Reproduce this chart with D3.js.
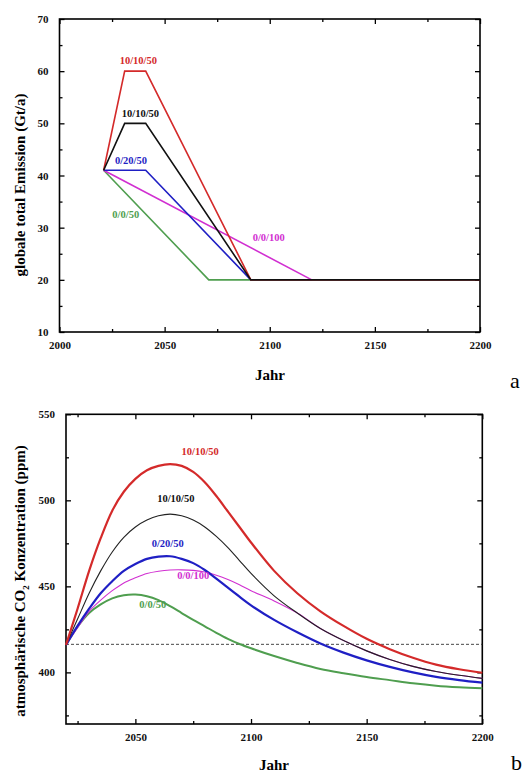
<!DOCTYPE html>
<meta charset="utf-8">
<title>Emission und CO2 Konzentration</title>
<style>
  body { margin: 0; background: #fff; }
  text { font-family: "Liberation Serif", "DejaVu Serif", serif; }
  .tick text { font-family: "Liberation Serif", serif; font-weight: bold; font-size: 11px; }
  .frame { fill: none; stroke: #000; stroke-width: 1.6px; }
  .title { font-weight: bold; font-size: 15px; }
  .lbl { font-family: "Liberation Serif", serif; font-weight: bold; font-size: 10.5px; }
  .panel { font-size: 22px; }
</style>
<body>
<script src="https://cdn.jsdelivr.net/npm/d3@7"></script>
<script>

var width = 526,
    height = 776;

// ---- chart a : emissions (Gt/a) ----
var emYearsRed = [2021, 2031, 2041, 2091, 2200],
    emRed = [41, 60, 60, 20, 20];
var emYearsBlack = [2021, 2031, 2041, 2091, 2200],
    emBlack = [41, 50, 50, 20, 20];
var emYearsBlue = [2021, 2041, 2091],
    emBlue = [41, 41, 20];
var emYearsMagenta = [2021, 2120],
    emMagenta = [41, 20];
var emYearsGreen = [2021, 2071, 2091],
    emGreen = [41, 20, 20];

// ---- chart b : concentration (ppm) ----
var concYears = [2020, 2025, 2030, 2035, 2040, 2045, 2050, 2055, 2060, 2065, 2070, 2075, 2080, 2085, 2090, 2095, 2100,
                 2110, 2120, 2130, 2140, 2150, 2160, 2170, 2180, 2190, 2200];
var concRed = [416, 437, 459, 478, 494, 505, 512.5, 517.5, 520, 521, 520, 516.5, 510.5, 502.5, 493.5, 484.5, 475.5,
               459, 446, 435.5, 427, 419.5, 413.5, 408.5, 404.5, 401.8, 399.8];
var concBlack = [416, 431, 446, 459, 470, 478.5, 484.5, 488.5, 491, 492, 491, 488.5, 484.5, 479, 472.5, 465, 457.5,
                 444.5, 434.5, 425.5, 418.5, 412.5, 407.5, 403.5, 400.5, 398.3, 396.5];
var concBlue = [416, 427, 437, 446, 453, 459, 463, 466, 467.3, 467.5, 466, 463.5, 459.5, 454.5, 449.2, 444, 439,
                430.5, 423.3, 416.8, 411.5, 407, 403.2, 400, 397.4, 395.5, 394];
var concMagenta = [416, 426, 435.5, 442, 447.5, 452, 455, 457.5, 458.8, 459.5, 459.6, 459.3, 458.3, 456.5, 454, 451, 447.5,
                   441.5, 434.5, 425.5, 418.5, 412.5, 407.5, 403.5, 400.5, 398.3, 396.5];
var concGreen = [416, 426.5, 434.5, 439.5, 443, 444.8, 445.2, 444.3, 442, 438.5, 434.5, 430.5, 426.8, 423, 419.5, 416.5, 414,
                 409.5, 405.5, 402, 399.5, 397.3, 395.5, 393.7, 392.3, 391.4, 390.8];
var preIndustrial = 416.3; // dashed reference line

var scenarioNames = ["10/10/50", "10/10/50", "0/20/50", "0/0/100", "0/0/50"];
var colors = {red: "#d42a2a", black: "#111", blue: "#1f1fc4", magenta: "#d12fd1", green: "#4f9e4f"};

var svg = d3.select("body").append("svg")
  .attr("width", width)
  .attr("height", height);

// draws frame with inward ticks on all four sides
function drawFrame(g, x, y, xMajor, xMinor, yMajor, yMinor) {
  var w = x.range()[1] - x.range()[0],
      h = y.range()[0] - y.range()[1];

  function minorAxis(axis, scale, vals) {
    return axis(scale).tickValues(vals).tickSize(-3).tickFormat("");
  }

  g.append("g").attr("transform", "translate(0," + h + ")")
    .call(d3.axisBottom(x).tickValues(xMajor).tickSize(-5).tickPadding(9).tickFormat(d3.format("d")));
  g.append("g").attr("transform", "translate(0," + h + ")")
    .call(minorAxis(d3.axisBottom, x, xMinor));
  g.append("g")
    .call(d3.axisTop(x).tickValues(xMajor).tickSize(-5).tickFormat(""));
  g.append("g")
    .call(minorAxis(d3.axisTop, x, xMinor));

  g.append("g")
    .call(d3.axisLeft(y).tickValues(yMajor).tickSize(-5).tickPadding(11));
  g.append("g")
    .call(minorAxis(d3.axisLeft, y, yMinor));
  g.append("g").attr("transform", "translate(" + w + ",0)")
    .call(d3.axisRight(y).tickValues(yMajor).tickSize(-5).tickFormat(""));
  g.append("g").attr("transform", "translate(" + w + ",0)")
    .call(minorAxis(d3.axisRight, y, yMinor));

  g.selectAll(".domain").remove();
  g.selectAll(".tick line").attr("stroke", "#000").attr("stroke-width", 1.3);
  g.selectAll(".tick text").attr("fill", "#111");

  g.append("rect").attr("class", "frame")
    .attr("width", w).attr("height", h);
}

function zip(xs, ys) {
  return xs.map(function(d, i) { return [d, ys[i]]; });
}

// ===== chart a =====
var ax = d3.scaleLinear().domain([2000, 2200]).range([0, 420.5]);
var ay = d3.scaleLinear().domain([10, 70]).range([313, 0]);
var ga = svg.append("g").attr("transform", "translate(59.5,19)");

drawFrame(ga, ax, ay,
  [2000, 2050, 2100, 2150, 2200], [2025, 2075, 2125, 2175],
  [10, 20, 30, 40, 50, 60, 70], [15, 25, 35, 45, 55, 65]);

var lineA = d3.line()
  .x(function(d) { return ax(d[0]); })
  .y(function(d) { return ay(d[1]); });

var emSeries = [
  {pts: zip(emYearsGreen, emGreen), c: colors.green},
  {pts: zip(emYearsMagenta, emMagenta), c: colors.magenta},
  {pts: zip(emYearsBlue, emBlue), c: colors.blue},
  {pts: zip(emYearsRed, emRed), c: colors.red},
  {pts: zip(emYearsBlack, emBlack), c: colors.black}
];

ga.selectAll(".em").data(emSeries).enter().append("path")
  .attr("class", "em")
  .attr("d", function(d) { return lineA(d.pts); })
  .attr("fill", "none")
  .attr("stroke", function(d) { return d.c; })
  .attr("stroke-width", 1.6);

var emLabels = [
  {t: scenarioNames[0], x: 2037.5, y: 61.3, c: colors.red},
  {t: scenarioNames[1], x: 2038.5, y: 51.3, c: colors.black},
  {t: scenarioNames[2], x: 2034, y: 42.2, c: colors.blue},
  {t: scenarioNames[3], x: 2099.5, y: 27.4, c: colors.magenta},
  {t: scenarioNames[4], x: 2031.5, y: 31.8, c: colors.green}
];

ga.selectAll(".lbl").data(emLabels).enter().append("text")
  .attr("class", "lbl")
  .attr("x", function(d) { return ax(d.x); })
  .attr("y", function(d) { return ay(d.y); })
  .attr("text-anchor", "middle")
  .attr("fill", function(d) { return d.c; })
  .text(function(d) { return d.t; });

svg.append("text").attr("class", "title")
  .attr("transform", "translate(25,185) rotate(-90)")
  .attr("text-anchor", "middle")
  .text("globale total Emission (Gt/a)");

svg.append("text").attr("class", "title")
  .attr("x", 270).attr("y", 380)
  .attr("text-anchor", "middle")
  .attr("font-size", 16)
  .text("Jahr");

svg.append("text").attr("class", "panel")
  .attr("x", 510).attr("y", 388)
  .text("a");

// ===== chart b =====
var bx = d3.scaleLinear().domain([2020, 2200]).range([0, 416.3]);
var by = d3.scaleLinear().domain([370, 550]).range([309.7, 0]);
var gb = svg.append("g").attr("transform", "translate(66,414.3)");

drawFrame(gb, bx, by,
  [2050, 2100, 2150, 2200], [2025, 2075, 2125, 2175],
  [400, 450, 500, 550], [375, 425, 475, 525]);

gb.append("line")
  .attr("x1", bx(2020)).attr("x2", bx(2200))
  .attr("y1", by(preIndustrial)).attr("y2", by(preIndustrial))
  .attr("stroke", "#333")
  .attr("stroke-width", 0.9)
  .attr("stroke-dasharray", "3,2");

var lineB = d3.line()
  .curve(d3.curveCatmullRom.alpha(0.5))
  .x(function(d) { return bx(d[0]); })
  .y(function(d) { return by(d[1]); });

var concSeries = [
  {v: concGreen, c: colors.green, w: 2},
  {v: concMagenta, c: colors.magenta, w: 1.1},
  {v: concBlue, c: colors.blue, w: 2.2},
  {v: concBlack, c: "#222", w: 1.1},
  {v: concRed, c: colors.red, w: 2.2}
];

gb.selectAll(".conc").data(concSeries).enter().append("path")
  .attr("class", "conc")
  .attr("d", function(d) { return lineB(zip(concYears, d.v)); })
  .attr("fill", "none")
  .attr("stroke", function(d) { return d.c; })
  .attr("stroke-width", function(d) { return d.w; });

var concLabels = [
  {t: scenarioNames[0], x: 2078, y: 526.5, c: colors.red},
  {t: scenarioNames[1], x: 2067.5, y: 499, c: colors.black},
  {t: scenarioNames[2], x: 2064, y: 473, c: colors.blue},
  {t: scenarioNames[3], x: 2075, y: 454, c: colors.magenta},
  {t: scenarioNames[4], x: 2057.5, y: 437.5, c: colors.green}
];

gb.selectAll(".lbl").data(concLabels).enter().append("text")
  .attr("class", "lbl")
  .attr("x", function(d) { return bx(d.x); })
  .attr("y", function(d) { return by(d.y); })
  .attr("text-anchor", "middle")
  .attr("fill", function(d) { return d.c; })
  .text(function(d) { return d.t; });

var yt = svg.append("text").attr("class", "title")
  .attr("transform", "translate(25,581) rotate(-90)")
  .attr("text-anchor", "middle");
yt.append("tspan").text("atmosphärische CO");
yt.append("tspan").attr("font-size", 9).attr("dy", 4).text("2");
yt.append("tspan").attr("dy", -4).text(" Konzentration  (ppm)");

svg.append("text").attr("class", "title")
  .attr("x", 274).attr("y", 770)
  .attr("text-anchor", "middle")
  .attr("font-size", 16)
  .text("Jahr");

svg.append("text").attr("class", "panel")
  .attr("x", 511).attr("y", 770)
  .attr("font-size", 20)
  .text("b");

</script>
</body>
